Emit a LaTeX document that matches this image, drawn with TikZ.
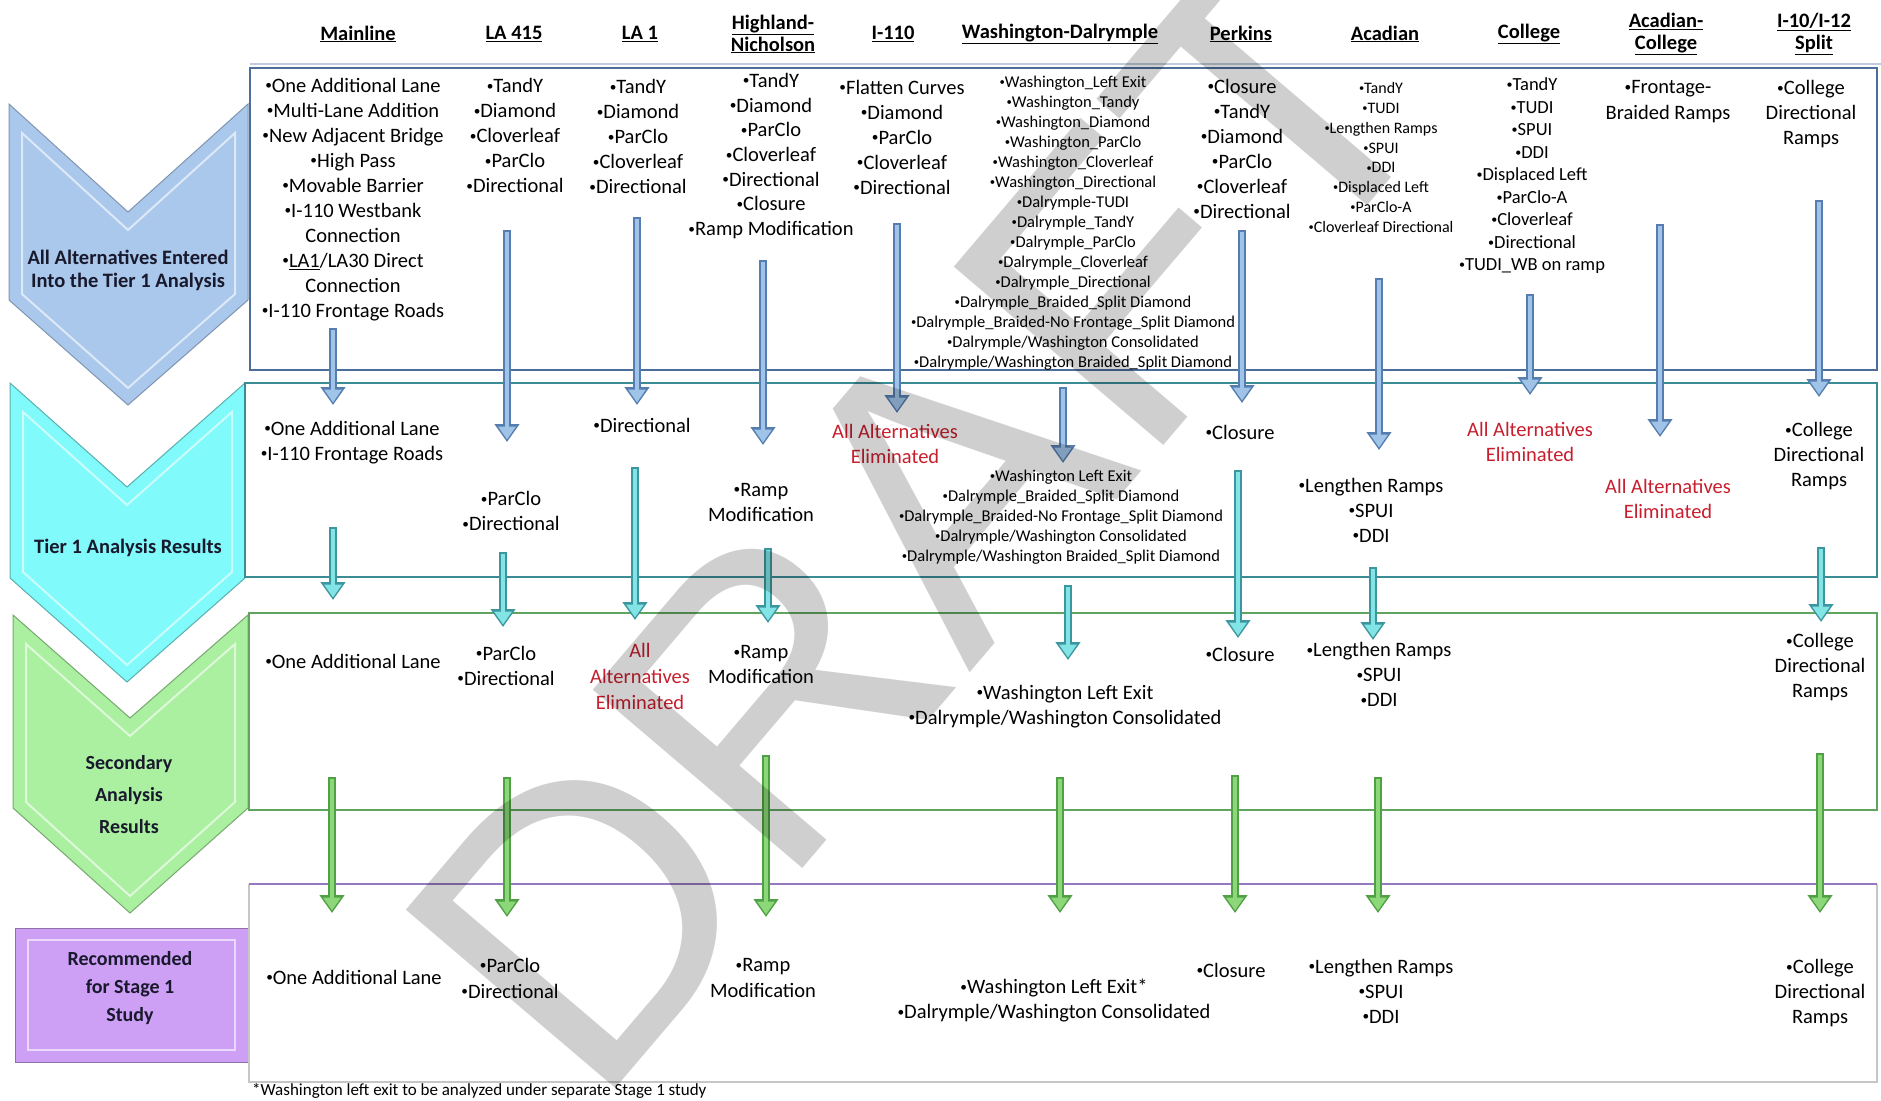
\documentclass[tikz,border=0pt]{standalone}
\usepackage{graphicx}
\usepackage{fontspec}
\setmainfont{Carlito}
\newfontfamily\markfont{Liberation Sans}
\usetikzlibrary{arrows.meta}

\definecolor{chevblue}{RGB}{170,200,235}
\definecolor{chevteal}{RGB}{128,250,250}
\definecolor{chevgreen}{RGB}{170,240,160}
\definecolor{chevpurple}{RGB}{205,160,245}
\definecolor{bandblue}{RGB}{75,110,155}
\definecolor{bandteal}{RGB}{60,140,150}
\definecolor{bandgreen}{RGB}{95,165,95}
\definecolor{bandpurple}{RGB}{150,120,190}
\definecolor{arrblueD}{RGB}{85,125,175}
\definecolor{arrblueL}{RGB}{160,195,232}
\definecolor{arrtealD}{RGB}{60,150,160}
\definecolor{arrtealL}{RGB}{130,228,228}
\definecolor{arrgreenD}{RGB}{80,160,70}
\definecolor{arrgreenL}{RGB}{140,215,120}
\definecolor{elimred}{RGB}{200,30,45}
\definecolor{chevink}{RGB}{25,25,45}

\newcommand{\bul}{\raisebox{0.12em}{\scalebox{0.65}{\textbullet}}}

\begin{document}
\begin{tikzpicture}[x=1pt,y=-1pt,
  txt/.style={align=center, inner sep=0pt, font=\fontsize{20.5}{25}\selectfont},
  sml/.style={align=center, inner sep=0pt, font=\fontsize{16.5}{20}\selectfont},
  acad/.style={align=center, inner sep=0pt, font=\fontsize{16}{19.9}\selectfont},
  coll/.style={align=center, inner sep=0pt, font=\fontsize{18.5}{22.5}\selectfont},
  gone/.style={txt, text=elimred},
  hdr/.style={align=center, inner sep=0pt, font=\bfseries\fontsize{20.5}{22}\selectfont},
  chevtxt/.style={align=center, inner sep=0pt, text=chevink},
  bluearrow/.style={draw=arrblueD, line width=8pt, -{Triangle[length=18pt,width=24pt]},
    postaction={draw=arrblueL, line width=4pt, -{Triangle[length=13pt,width=17pt]}, shorten >=2.5pt, shorten <=1.5pt}},
  tealarrow/.style={draw=arrtealD, line width=8pt, -{Triangle[length=18pt,width=24pt]},
    postaction={draw=arrtealL, line width=4pt, -{Triangle[length=13pt,width=17pt]}, shorten >=2.5pt, shorten <=1.5pt}},
  greenarrow/.style={draw=arrgreenD, line width=8pt, -{Triangle[length=18pt,width=24pt]},
    postaction={draw=arrgreenL, line width=4pt, -{Triangle[length=13pt,width=17pt]}, shorten >=2.5pt, shorten <=1.5pt}}]

  \fill[white] (0,0) rectangle (1881,1100);
  \useasboundingbox (0,0) rectangle (1881,1100);

  % stage chevrons on the left
  \filldraw[fill=chevblue, draw=chevblue!75!black, line width=1pt]
    (9,104) -- (128,212) -- (248,104) -- (248,300) -- (128,405) -- (9,300) -- cycle;
  \draw[white, opacity=.6, line width=2pt]
    (22,133) -- (128,230) -- (235,133) -- (235,294) -- (128,388) -- (22,294) -- cycle;
  \filldraw[fill=chevteal, draw=chevteal!70!black, line width=1pt]
    (10,383) -- (127,487) -- (245,383) -- (245,578) -- (127,682) -- (10,578) -- cycle;
  \draw[white, opacity=.6, line width=2pt]
    (23,412) -- (127,505) -- (232,412) -- (232,572) -- (127,665) -- (23,572) -- cycle;
  \filldraw[fill=chevgreen, draw=chevgreen!70!black, line width=1pt]
    (13,615) -- (130,718) -- (248,615) -- (248,808) -- (130,913) -- (13,808) -- cycle;
  \draw[white, opacity=.6, line width=2pt]
    (26,644) -- (130,736) -- (235,644) -- (235,802) -- (130,896) -- (26,802) -- cycle;
  \filldraw[fill=chevpurple, draw=chevpurple!70!black, line width=1pt] (15,928) rectangle (248,1062);
  \draw[white, opacity=.6, line width=2pt] (28,940) rectangle (235,1050);

  \node[chevtxt, font=\bfseries\fontsize{20.5}{23}\selectfont] (stage1) at (128,270) {All Alternatives Entered\\Into the Tier 1 Analysis};
  \node[chevtxt, font=\bfseries\fontsize{20.5}{23}\selectfont] (stage2) at (128,548) {Tier 1 Analysis Results};
  \node[chevtxt, font=\bfseries\fontsize{20}{32}\selectfont] (stage3) at (129,795) {Secondary\\Analysis\\Results};
  \node[chevtxt, font=\bfseries\fontsize{20}{28}\selectfont] (stage4) at (130,988) {Recommended\\for Stage 1\\Study};

  % bands
  \draw[bandblue!35, line width=2pt] (250,64) -- (1881,64);
  \draw[bandblue, line width=2.5pt] (250,68) rectangle (1877,370);
  \draw[bandteal, line width=2.5pt] (245,383) rectangle (1877,577);
  \draw[bandgreen, line width=2.5pt] (249,613) rectangle (1877,810);
  \draw[gray!45, line width=2.5pt] (249,884) |- (1877,1082) -- (1877,884);
  \draw[bandpurple, line width=2.5pt] (249,884) -- (1877,884);

  % column headers
  \node[hdr] (hMain) at (358,34) {\underline{Mainline}};
  \node[hdr] (hLAf) at (514,34) {\underline{LA 415}};
  \node[hdr] (hLAo) at (640,34) {\underline{LA 1}};
  \node[hdr] (hHigh) at (773,34) {\underline{Highland-}\\\underline{Nicholson}};
  \node[hdr] (hIten) at (893,34) {\underline{I-110}};
  \node[hdr] (hWash) at (1060,34) {\underline{Washington-Dalrymple}};
  \node[hdr] (hPerk) at (1241,34) {\underline{Perkins}};
  \node[hdr] (hAcad) at (1385,34) {\underline{Acadian}};
  \node[hdr] (hColl) at (1529,34) {\underline{College}};
  \node[hdr] (hAcCo) at (1666,34) {\underline{Acadian-}\\\underline{College}};
  \node[hdr] (hSplit) at (1814,34) {\underline{I-10/I-12}\\\underline{Split}};

  % all alternatives
  \node[txt] (mainA) at (353,199.5) {\bul One Additional Lane\\\bul Multi-Lane Addition\\\bul New Adjacent Bridge\\\bul High Pass\\\bul Movable Barrier\\\bul I-110 Westbank\\Connection\\\bul \underline{LA1}/LA30 Direct\\Connection\\\bul I-110 Frontage Roads};
  \node[txt] (lafA) at (515,135.5) {\bul TandY\\\bul Diamond\\\bul Cloverleaf\\\bul ParClo\\\bul Directional};
  \node[txt] (laoA) at (638,136.5) {\bul TandY\\\bul Diamond\\\bul ParClo\\\bul Cloverleaf\\\bul Directional};
  \node[txt, font=\fontsize{20.5}{24.7}\selectfont] (highA) at (771,156) {\bul TandY\\\bul Diamond\\\bul ParClo\\\bul Cloverleaf\\\bul Directional\\\bul Closure\\\bul Ramp Modification};
  \node[txt] (itenA) at (902,137) {\bul Flatten Curves\\\bul Diamond\\\bul ParClo\\\bul Cloverleaf\\\bul Directional};
  \node[sml] (washA) at (1073,223) {\bul Washington\_Left Exit\\\bul Washington\_Tandy\\\bul Washington\_Diamond\\\bul Washington\_ParClo\\\bul Washington\_Cloverleaf\\\bul Washington\_Directional\\\bul Dalrymple-TUDI\\\bul Dalrymple\_TandY\\\bul Dalrymple\_ParClo\\\bul Dalrymple\_Cloverleaf\\\bul Dalrymple\_Directional\\\bul Dalrymple\_Braided\_Split Diamond\\\bul Dalrymple\_Braided-No Frontage\_Split Diamond\\\bul Dalrymple/Washington Consolidated\\\bul Dalrymple/Washington Braided\_Split Diamond};
  \node[txt] (perkA) at (1242,148.5) {\bul Closure\\\bul TandY\\\bul Diamond\\\bul ParClo\\\bul Cloverleaf\\\bul Directional};
  \node[acad] (acadA) at (1381,157.5) {\bul TandY\\\bul TUDI\\\bul Lengthen Ramps\\\bul SPUI\\\bul DDI\\\bul Displaced Left\\\bul ParClo-A\\\bul Cloverleaf Directional};
  \node[coll] (collA) at (1532,176) {\bul TandY\\\bul TUDI\\\bul SPUI\\\bul DDI\\\bul Displaced Left\\\bul ParClo-A\\\bul Cloverleaf\\\bul Directional\\\bul TUDI\_WB on ramp};
  \node[txt, font=\fontsize{20.5}{26}\selectfont] (accoA) at (1668,102) {\bul Frontage-\\Braided Ramps};
  \node[txt] (splitA) at (1811,114.5) {\bul College\\Directional\\Ramps};

  % tier 1 results
  \node[txt] (mainB) at (352,442.5) {\bul One Additional Lane\\\bul I-110 Frontage Roads};
  \node[txt] (lafB) at (511,511) {\bul ParClo\\\bul Directional};
  \node[txt] (laoB) at (642,425) {\bul Directional};
  \node[txt] (highB) at (761,502) {\bul Ramp\\Modification};
  \node[gone] (itenB) at (895,444) {All Alternatives\\Eliminated};
  \node[sml] (washB) at (1061,517) {\bul Washington Left Exit\\\bul Dalrymple\_Braided\_Split Diamond\\\bul Dalrymple\_Braided-No Frontage\_Split Diamond\\\bul Dalrymple/Washington Consolidated\\\bul Dalrymple/Washington Braided\_Split Diamond};
  \node[txt] (perkB) at (1240,432) {\bul Closure};
  \node[txt] (acadB) at (1371,510) {\bul Lengthen Ramps\\\bul SPUI\\\bul DDI};
  \node[gone] (collB) at (1530,441.5) {All Alternatives\\Eliminated};
  \node[gone] (acCoB) at (1668,499) {All Alternatives\\Eliminated};
  \node[txt] (splitB) at (1819,456) {\bul College\\Directional\\Ramps};

  % secondary results
  \node[txt] (mainC) at (353,661) {\bul One Additional Lane};
  \node[txt] (lafC) at (506,665.5) {\bul ParClo\\\bul Directional};
  \node[gone, font=\fontsize{20.5}{26}\selectfont] (laoC) at (640,676) {All\\Alternatives\\Eliminated};
  \node[txt] (highC) at (761,664.5) {\bul Ramp\\Modification};
  \node[txt] (washC) at (1065,706.5) {\bul Washington Left Exit\\\bul Dalrymple/Washington Consolidated};
  \node[txt] (perkC) at (1240,654) {\bul Closure};
  \node[txt] (acadC) at (1379,674.5) {\bul Lengthen Ramps\\\bul SPUI\\\bul DDI};
  \node[txt] (splitC) at (1820,667.5) {\bul College\\Directional\\Ramps};

  % recommended
  \node[txt] (mainD) at (354,977) {\bul One Additional Lane};
  \node[txt, font=\fontsize{20.5}{26}\selectfont] (lafD) at (510,978) {\bul ParClo\\\bul Directional};
  \node[txt, font=\fontsize{20.5}{26}\selectfont] (highD) at (763,978) {\bul Ramp\\Modification};
  \node[txt] (washD) at (1054,1000.5) {\bul Washington Left Exit*\\\bul Dalrymple/Washington Consolidated};
  \node[txt] (perkD) at (1231,970) {\bul Closure};
  \node[txt] (acadD) at (1381,991) {\bul Lengthen Ramps\\\bul SPUI\\\bul DDI};
  \node[txt] (splitD) at (1820,993.5) {\bul College\\Directional\\Ramps};

  \node[anchor=west, inner sep=0pt, font=\fontsize{17}{20}\selectfont] (note) at (252,1091) {*Washington left exit to be analyzed under separate Stage 1 study};

  % arrows between the bands
  \foreach \x/\ya/\yb [count=\i] in {333/328/405, 507/230/442, 637/217/405, 763/260/445, 897/223/413, 1063/387/463, 1242/230/403, 1379/278/450, 1530/294/395, 1660/224/437, 1819/200/397}{
    \coordinate (bt\i) at (\x,\ya);
    \coordinate (bb\i) at (\x,\yb);
    \draw[bluearrow] (bt\i) -- (bb\i);
  }
  \foreach \x/\ya/\yb [count=\i] in {333/527/600, 503/552/627, 635/467/620, 768/548/623, 1068/585/660, 1238/470/638, 1373/567/640, 1821/547/622}{
    \coordinate (tt\i) at (\x,\ya);
    \coordinate (tb\i) at (\x,\yb);
    \draw[tealarrow] (tt\i) -- (tb\i);
  }
  \foreach \x/\ya/\yb [count=\i] in {332/777/913, 507/777/917, 766/755/917, 1060/777/913, 1235/775/913, 1378/777/913, 1820/753/913}{
    \coordinate (gt\i) at (\x,\ya);
    \coordinate (gb\i) at (\x,\yb);
    \draw[greenarrow] (gt\i) -- (gb\i);
  }

  % watermark
  \node[font=\markfont\fontsize{400}{400}\selectfont, text=black, text opacity=0.19, rotate=49.6, inner sep=0pt] (draft) at (922,517) {DRAFT};
\end{tikzpicture}
\end{document}
